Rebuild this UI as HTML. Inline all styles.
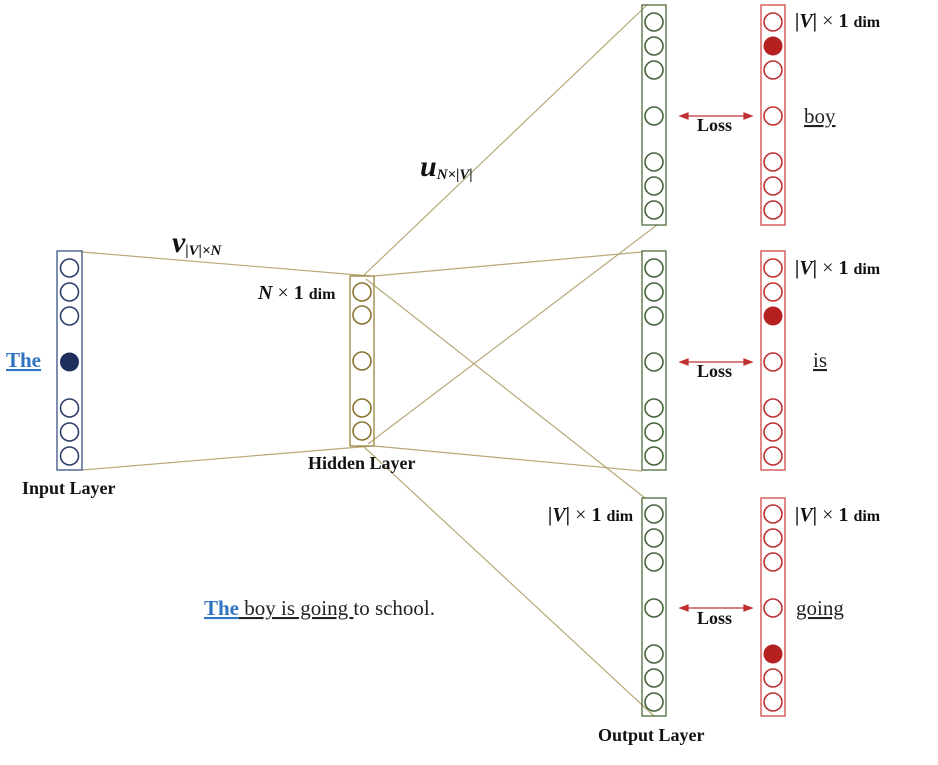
<!DOCTYPE html>
<html><head><meta charset="utf-8"><style>
body{margin:0;background:#fff;}
svg text{font-family:"Liberation Serif",serif;}
</style></head><body>
<svg width="938" height="760" viewBox="0 0 938 760" xmlns="http://www.w3.org/2000/svg">
<g stroke="#b8a878" stroke-width="1.2" fill="none">
<line x1="82" y1="252" x2="370" y2="276"/>
<line x1="82" y1="470" x2="372" y2="446"/>
<line x1="363" y1="276" x2="648" y2="4"/>
<line x1="374" y1="276" x2="642" y2="252"/>
<line x1="366" y1="279" x2="645" y2="498"/>
<line x1="368" y1="444" x2="657" y2="225"/>
<line x1="374" y1="446" x2="642" y2="471"/>
<line x1="363" y1="446" x2="654" y2="716"/>
</g>
<rect x="57" y="251" width="25" height="219" fill="none" stroke="#3b5283" stroke-width="1.3"/>
<g stroke="#2d3f6a" stroke-width="1.6" fill="none">
<circle cx="69.5" cy="268" r="9"/><circle cx="69.5" cy="292" r="9"/><circle cx="69.5" cy="316" r="9"/>
<circle cx="69.5" cy="408" r="9"/><circle cx="69.5" cy="432" r="9"/><circle cx="69.5" cy="456" r="9"/>
</g>
<circle cx="69.5" cy="362" r="9.5" fill="#1f2f5c"/>
<rect x="350" y="276" width="24" height="170" fill="none" stroke="#9a8440" stroke-width="1.3"/>
<g stroke="#8a7430" stroke-width="1.6" fill="none">
<circle cx="362" cy="292" r="9"/><circle cx="362" cy="315" r="9"/><circle cx="362" cy="361" r="9"/>
<circle cx="362" cy="408" r="9"/><circle cx="362" cy="431" r="9"/>
</g>
<g fill="none">
<rect x="642" y="5" width="24" height="220" stroke="#4d6b3a" stroke-width="1.3"/>
<rect x="642" y="251" width="24" height="219" stroke="#4d6b3a" stroke-width="1.3"/>
<rect x="642" y="498" width="24" height="218" stroke="#4d6b3a" stroke-width="1.3"/>
<g stroke="#44653a" stroke-width="1.6">
<circle cx="654" cy="22" r="9"/><circle cx="654" cy="46" r="9"/><circle cx="654" cy="70" r="9"/><circle cx="654" cy="116" r="9"/><circle cx="654" cy="162" r="9"/><circle cx="654" cy="186" r="9"/><circle cx="654" cy="210" r="9"/>
<circle cx="654" cy="268" r="9"/><circle cx="654" cy="292" r="9"/><circle cx="654" cy="316" r="9"/><circle cx="654" cy="362" r="9"/><circle cx="654" cy="408" r="9"/><circle cx="654" cy="432" r="9"/><circle cx="654" cy="456" r="9"/>
<circle cx="654" cy="514" r="9"/><circle cx="654" cy="538" r="9"/><circle cx="654" cy="562" r="9"/><circle cx="654" cy="608" r="9"/><circle cx="654" cy="654" r="9"/><circle cx="654" cy="678" r="9"/><circle cx="654" cy="702" r="9"/>
</g>
<rect x="761" y="5" width="24" height="220" stroke="#d04848" stroke-width="1.3"/>
<rect x="761" y="251" width="24" height="219" stroke="#d04848" stroke-width="1.3"/>
<rect x="761" y="498" width="24" height="218" stroke="#d04848" stroke-width="1.3"/>
<g stroke="#c03030" stroke-width="1.6">
<circle cx="773" cy="22" r="9"/><circle cx="773" cy="70" r="9"/><circle cx="773" cy="116" r="9"/><circle cx="773" cy="162" r="9"/><circle cx="773" cy="186" r="9"/><circle cx="773" cy="210" r="9"/>
<circle cx="773" cy="268" r="9"/><circle cx="773" cy="292" r="9"/><circle cx="773" cy="362" r="9"/><circle cx="773" cy="408" r="9"/><circle cx="773" cy="432" r="9"/><circle cx="773" cy="456" r="9"/>
<circle cx="773" cy="514" r="9"/><circle cx="773" cy="538" r="9"/><circle cx="773" cy="562" r="9"/><circle cx="773" cy="608" r="9"/><circle cx="773" cy="678" r="9"/><circle cx="773" cy="702" r="9"/>
</g>
</g>
<g fill="#b52020"><circle cx="773" cy="46" r="9.5"/><circle cx="773" cy="316" r="9.5"/><circle cx="773" cy="654" r="9.5"/></g>
<g stroke="#c03030" stroke-width="1.2" fill="#c03030">
<line x1="684" y1="116" x2="748" y2="116"/><polygon points="680,116 688,113 688,119"/><polygon points="752,116 744,113 744,119"/>
<line x1="684" y1="362" x2="748" y2="362"/><polygon points="680,362 688,359 688,365"/><polygon points="752,362 744,359 744,365"/>
<line x1="684" y1="608" x2="748" y2="608"/><polygon points="680,608 688,605 688,611"/><polygon points="752,608 744,605 744,611"/>
</g>
<g font-weight="bold" font-size="18" fill="#111">
<text x="697" y="131">Loss</text><text x="697" y="377">Loss</text><text x="697" y="624">Loss</text>
<text x="22" y="494">Input Layer</text>
<text x="308" y="469">Hidden Layer</text>
<text x="598" y="741">Output Layer</text>
</g>
<g font-size="20" fill="#111">
<text x="795" y="27"><tspan font-style="italic" font-weight="bold">|V|</tspan> × <tspan font-weight="bold">1</tspan> <tspan font-size="16" font-weight="bold">dim</tspan></text>
<text x="795" y="274"><tspan font-style="italic" font-weight="bold">|V|</tspan> × <tspan font-weight="bold">1</tspan> <tspan font-size="16" font-weight="bold">dim</tspan></text>
<text x="795" y="521"><tspan font-style="italic" font-weight="bold">|V|</tspan> × <tspan font-weight="bold">1</tspan> <tspan font-size="16" font-weight="bold">dim</tspan></text>
<text x="548" y="521"><tspan font-style="italic" font-weight="bold">|V|</tspan> × <tspan font-weight="bold">1</tspan> <tspan font-size="16" font-weight="bold">dim</tspan></text>
<text x="258" y="299"><tspan font-style="italic" font-weight="bold">N</tspan> × <tspan font-weight="bold">1</tspan> <tspan font-size="16" font-weight="bold">dim</tspan></text>
</g>
<g font-size="21" fill="#222" text-decoration="underline">
<text x="804" y="123">boy</text><text x="813" y="367">is</text><text x="796" y="615">going</text>
</g>
<text x="6" y="367" font-size="21" font-weight="bold" fill="#2f74c0" text-decoration="underline">The</text>
<text x="204" y="615" font-size="21" fill="#222"><tspan fill="#2f74c0" font-weight="bold" text-decoration="underline">The</tspan><tspan text-decoration="underline"> boy is going </tspan>to school.</text>
<text x="172" y="252" font-size="30" font-style="italic" font-weight="bold" fill="#111">v<tspan font-size="15" dy="3">|V|×N</tspan></text>
<text x="420" y="176" font-size="30" font-style="italic" font-weight="bold" fill="#111">u<tspan font-size="15" dy="3">N×|V|</tspan></text>
</svg>
</body></html>
